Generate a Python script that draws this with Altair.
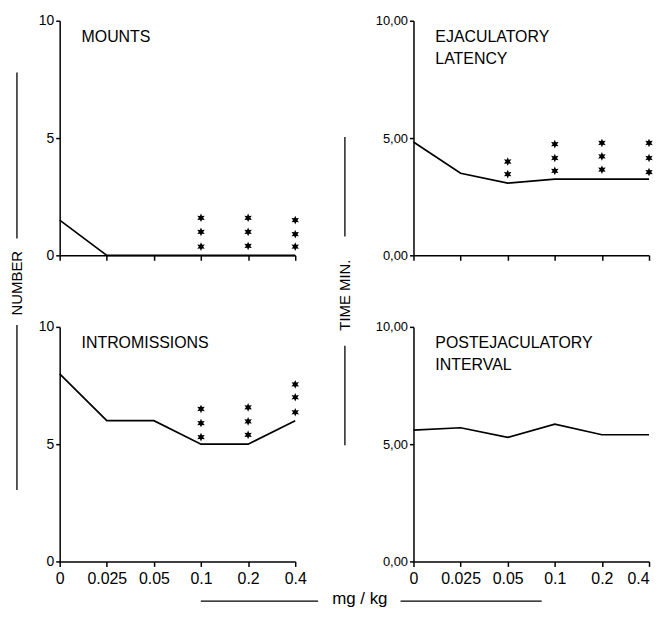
import math
import altair as alt
import pandas as pd

doses = ["0", "0.025", "0.05", "0.1", "0.2", "0.4"]

mounts = [1.5, 0, 0, 0, 0, 0]
ejac_latency = [4.83, 3.5, 3.08, 3.25, 3.25, 3.25]
intromissions = [8.0, 6.0, 6.0, 5.0, 5.0, 6.0]
postejac = [5.6, 5.7, 5.29, 5.85, 5.4, 5.4]

# significance asterisks (dose, height)
mounts_star_dose = ["0.1"] * 3 + ["0.2"] * 3 + ["0.4"] * 3
mounts_star_y = [0.37, 1.0, 1.6, 0.4, 1.0, 1.6, 0.37, 0.9, 1.5]
ejac_star_dose = ["0.05"] * 2 + ["0.1"] * 3 + ["0.2"] * 3 + ["0.4"] * 3
ejac_star_y = [3.46, 4.0, 3.6, 4.15, 4.74, 3.65, 4.22, 4.79, 3.55, 4.15, 4.79]
intro_star_dose = ["0.1"] * 3 + ["0.2"] * 3 + ["0.4"] * 3
intro_star_y = [5.3, 5.9, 6.5, 5.4, 5.97, 6.57, 6.36, 7.0, 7.55]
post_star_dose = []
post_star_y = []

FONT = "Liberation Sans"
W, H = 237, 236

# six-pointed star symbol shape
_pts = []
for k in range(12):
    r = 1.0 if k % 2 == 0 else 0.5
    a = math.radians(-90 + k * 30)
    _pts.append((r * math.cos(a), r * math.sin(a)))
STAR = "M" + " L".join(f"{px:.3f},{py:.3f}" for px, py in _pts) + " Z"


def panel(values, sdose, sy, title, show_x_labels, time_fmt):
    df = pd.DataFrame({"dose": doses, "value": values})
    xargs = dict(
        title=None, labels=show_x_labels, labelFontSize=16, labelFont=FONT,
        labelPadding=4, tickSize=5, tickWidth=1.5, domainWidth=1.5,
        labelAngle=0, grid=False,
    )
    if time_fmt:
        xargs["labelAlign"] = {
            "condition": {"test": "datum.label == '0.4'", "value": "right"},
            "value": "center",
        }
    yargs = dict(
        title=None, values=[0, 5, 10], labelFontSize=14, labelFont=FONT,
        tickSize=4, tickWidth=1.5, domainWidth=1.5, labelPadding=2, grid=False,
    )
    if time_fmt:
        yargs["labelExpr"] = "replace(format(datum.value, '.2f'), '.', ',')"
        yargs["labelFontSize"] = 13
    x = alt.X("dose:O", sort=doses, scale=alt.Scale(type="point", padding=0),
              axis=alt.Axis(**xargs))
    y = alt.Y("value:Q", scale=alt.Scale(domain=[0, 10], nice=False), axis=alt.Axis(**yargs))
    line = alt.Chart(df).mark_line(color="black", strokeWidth=1.7).encode(x=x, y=y)
    layers = [line]
    if sdose:
        sdf = pd.DataFrame({"dose": sdose, "value": sy})
        stars = alt.Chart(sdf).mark_point(
            shape=STAR, size=75, filled=True, color="black", opacity=1
        ).encode(x=alt.X("dose:O", sort=doses), y="value:Q")
        layers.append(stars)
    tdf = pd.DataFrame({"t": [title]})
    ttl = alt.Chart(tdf).mark_text(
        align="left", baseline="alphabetic", fontSize=16, font=FONT, color="black",
        lineBreak="\n", lineHeight=22,
    ).encode(text="t:N", x=alt.value(22), y=alt.value(21))
    layers.append(ttl)
    return layers


_one = pd.DataFrame({"k": [0]})


def side_label(text, xv, yv, angle, size):
    d = pd.DataFrame({"t": [text]})
    return alt.Chart(d).mark_text(
        align="center", baseline="middle", fontSize=size, font=FONT, color="black",
        angle=angle,
    ).encode(text="t:N", x=alt.value(xv), y=alt.value(yv))


def vrule(xv, y1, y2):
    return alt.Chart(_one).mark_rule(color="black", strokeWidth=1.3).encode(
        x=alt.value(xv), y=alt.value(y1), y2=alt.value(y2))


def hrule(x1, x2, yv):
    return alt.Chart(_one).mark_rule(color="black", strokeWidth=1.3).encode(
        x=alt.value(x1), x2=alt.value(x2), y=alt.value(yv))


tl = panel(mounts, mounts_star_dose, mounts_star_y, "MOUNTS", False, False)
tl += [side_label("NUMBER", -43, 264, 270, 15), vrule(-43, 52, 219), vrule(-43, 306, 472)]

tr = panel(ejac_latency, ejac_star_dose, ejac_star_y, "EJACULATORY\nLATENCY", False, True)
tr += [side_label("TIME  MIN.", -69, 276, 270, 15), vrule(-69, 117, 217), vrule(-69, 327, 427)]

bl = panel(intromissions, intro_star_dose, intro_star_y, "INTROMISSIONS", True, False)
bl += [side_label("mg / kg", 302, 274, 0, 17), hrule(142, 260, 276), hrule(343, 485, 276)]

br = panel(postejac, post_star_dose, post_star_y, "POSTEJACULATORY\nINTERVAL", True, True)


def lay(layers):
    return alt.layer(*layers).properties(width=W, height=H)


chart = alt.concat(
    lay(tl), lay(tr), lay(bl), lay(br),
    columns=2, spacing=alt.RowColnumber(row=72, column=119), bounds="flush",
).configure_view(
    stroke=None
).configure_axis(
    domainColor="black", tickColor="black", labelColor="black"
).properties(
    background="white",
    padding={"top": 4, "left": 2, "right": 0, "bottom": 0},
)

chart.save("out.html", embed_options={"renderer": "svg", "actions": False})
